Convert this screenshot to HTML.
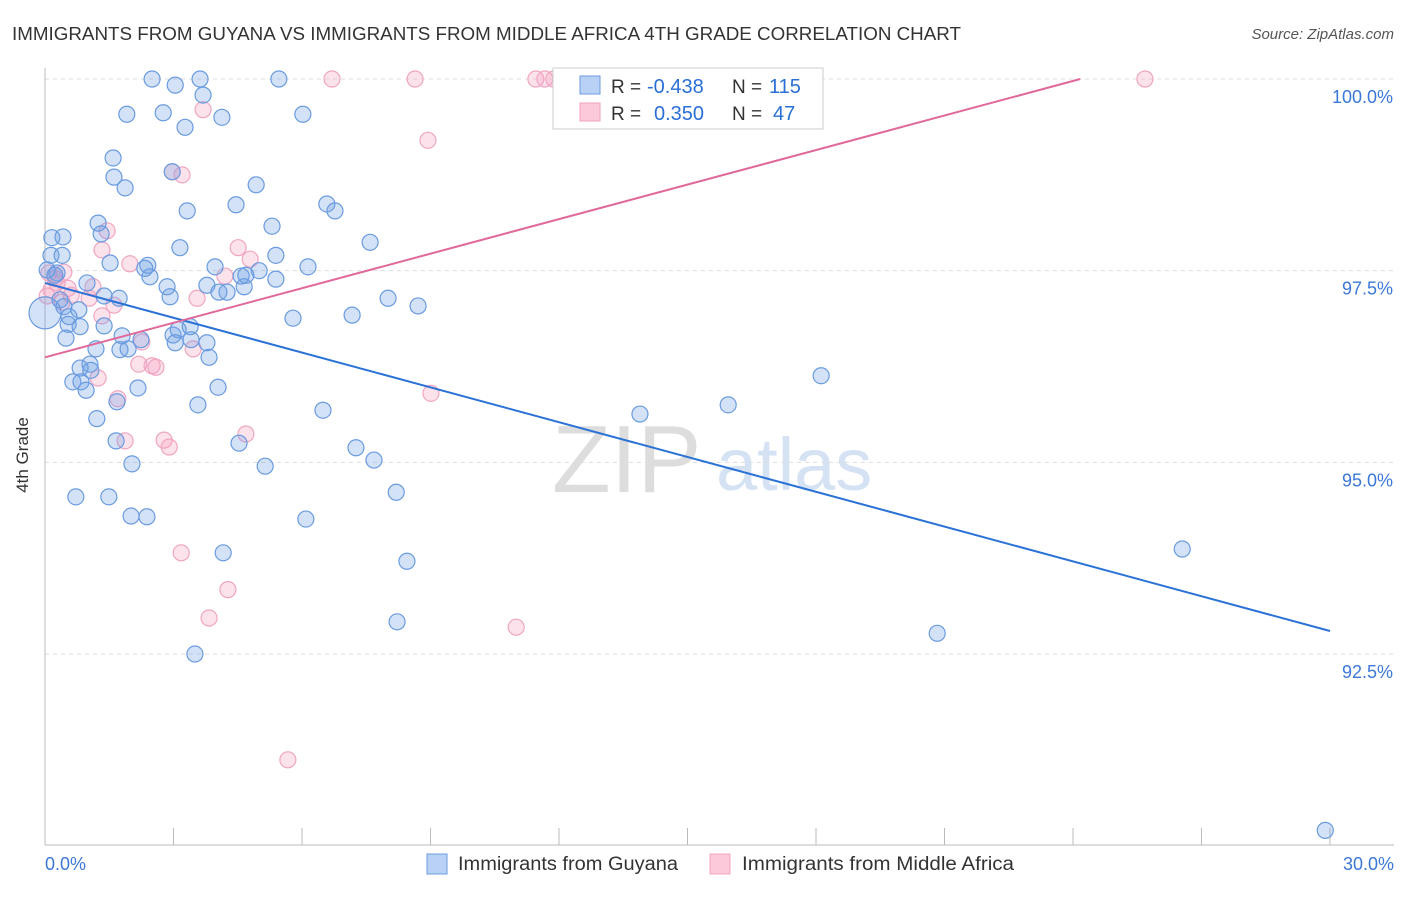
<!DOCTYPE html>
<html><head><meta charset="utf-8"><style>
body{margin:0;background:#fff;font-family:"Liberation Sans",sans-serif;}
svg text{font-family:"Liberation Sans",sans-serif;}
</style></head><body>
<svg id="chart" width="1406" height="892" xmlns="http://www.w3.org/2000/svg">
<text x="12" y="40" font-size="18" fill="#333" textLength="949" lengthAdjust="spacingAndGlyphs">IMMIGRANTS FROM GUYANA VS IMMIGRANTS FROM MIDDLE AFRICA 4TH GRADE CORRELATION CHART</text>
<text x="1394" y="39" font-size="15" fill="#555" font-style="italic" text-anchor="end">Source: ZipAtlas.com</text>
<text x="28" y="455" font-size="17" fill="#333" transform="rotate(-90 28 455)" text-anchor="middle">4th Grade</text>
<g><text x="552" y="492" font-size="96" fill="#ddd" font-family="Liberation Serif">ZIP</text><text x="716" y="490" font-size="74" fill="#d4e2f4">atlas</text></g>
<g id="grid"></g><g id="axes"></g><g id="pts"></g><g id="lines"></g>
<g>
<rect x="553" y="68" width="270" height="61" fill="#fff" stroke="#ccc"/>
<rect x="580" y="76" width="20" height="18" fill="#b9d1f5" stroke="#6a9be0"/>
<rect x="580" y="103" width="20" height="18" fill="#fbc9da" stroke="#f0a0c0"/>
<text x="611" y="93" font-size="19" fill="#333">R =</text>
<text x="647" y="93" font-size="20" fill="#2a6fd6">-0.438</text>
<text x="732" y="93" font-size="19" fill="#333">N =</text>
<text x="769" y="93" font-size="20" fill="#2a6fd6">115</text>
<text x="611" y="120" font-size="19" fill="#333">R =</text>
<text x="654" y="120" font-size="20" fill="#2a6fd6">0.350</text>
<text x="732" y="120" font-size="19" fill="#333">N =</text>
<text x="773" y="120" font-size="20" fill="#2a6fd6">47</text>
</g>
<g>
<rect x="427" y="854" width="20" height="20" fill="#b9d1f5" stroke="#6a9be0"/>
<text x="458" y="870" font-size="19" fill="#333" textLength="220" lengthAdjust="spacingAndGlyphs">Immigrants from Guyana</text>
<rect x="710" y="854" width="20" height="20" fill="#fbc9da" stroke="#f0a0c0"/>
<text x="742" y="870" font-size="19" fill="#333" textLength="272" lengthAdjust="spacingAndGlyphs">Immigrants from Middle Africa</text>
</g>
</svg>
<script>
const yTicks=[100,97.5,95,92.5];
const yTickLabels=["100.0%","97.5%","95.0%","92.5%"];
const xTicks=[0,3,6,9,12,15,18,21,24,27,30];
const xEndLabels=["0.0%","30.0%"];
const blueX=[2.50,3.04,3.62,5.46,3.69,1.91,2.76,3.27,4.13,6.02,1.59,1.61,1.87,2.97,4.93,3.32,4.46,6.58,6.77,1.24,1.31,5.30,0.16,0.42,3.15,7.59,0.14,0.40,1.52,2.40,2.45,3.97,5.39,6.14,0.05,0.23,0.28,0.98,2.33,2.85,3.78,4.58,4.69,5.00,5.39,4.65,4.06,4.25,2.92,1.73,1.38,0.35,8.01,8.71,0.44,0.56,0.79,5.79,7.17,0.54,1.38,0.82,0.49,1.80,2.24,2.99,3.11,3.39,3.04,3.41,3.78,1.75,1.94,1.19,3.83,1.05,0.82,1.07,0.65,0.84,0.96,2.17,4.04,18.12,1.68,3.57,6.49,15.95,13.89,1.21,1.66,4.53,7.26,7.68,2.03,5.14,8.20,0.72,1.49,2.01,2.38,6.09,4.16,8.45,26.55,8.22,20.83,3.50,29.89];
const blueY=[100,99.92,100,100,99.79,99.54,99.56,99.37,99.50,99.54,98.97,98.72,98.58,98.79,98.62,98.28,98.36,98.37,98.28,98.12,97.98,98.08,97.93,97.94,97.80,97.87,97.70,97.70,97.60,97.57,97.42,97.55,97.70,97.55,97.51,97.44,97.47,97.34,97.53,97.29,97.31,97.43,97.44,97.50,97.39,97.29,97.22,97.22,97.16,97.14,97.17,97.12,97.14,97.04,97.03,96.90,96.99,96.88,96.92,96.80,96.78,96.77,96.62,96.65,96.60,96.66,96.73,96.77,96.56,96.60,96.56,96.47,96.48,96.48,96.37,96.28,96.23,96.20,96.05,96.05,95.94,95.97,95.98,96.13,95.79,95.75,95.68,95.75,95.63,95.57,95.28,95.25,95.19,95.03,94.98,94.95,94.61,94.55,94.55,94.30,94.29,94.26,93.82,93.71,93.87,92.92,92.77,92.50,90.20];
const pinkX=[6.70,8.64,11.46,11.67,11.88,25.68,3.69,8.94,2.97,3.20,1.45,4.51,1.33,4.79,1.98,4.20,0.09,0.44,0.28,0.54,1.12,0.61,1.03,3.55,1.61,1.33,0.05,2.26,3.46,1.24,2.19,2.50,2.59,9.01,1.70,2.78,2.90,1.87,4.69,3.18,4.27,3.83,11.00,5.67,0.40,0.14,0.23];
const pinkY=[100,100,100,100,100,100,99.60,99.20,98.79,98.75,98.02,97.80,97.77,97.65,97.59,97.43,97.47,97.48,97.34,97.27,97.29,97.18,97.14,97.14,97.05,96.91,97.17,96.57,96.48,96.10,96.28,96.26,96.24,95.90,95.83,95.29,95.20,95.28,95.37,93.82,93.34,92.97,92.85,91.12,97.09,97.25,97.40];
const bigBlue=[0,96.95];
const blueTrend=[97.34,92.80];
const pinkTrend=[96.37,100.0,24.17];
const NS="http://www.w3.org/2000/svg";
const sx=v=>45+v*(1285/30);
const sy=v=>79+(100-v)*76.67;
function mk(tag,attrs,parent){const e=document.createElementNS(NS,tag);for(const k in attrs)e.setAttribute(k,attrs[k]);document.getElementById(parent).appendChild(e);return e;}
yTicks.forEach((t,i)=>{
 const l=mk('line',{x1:45,x2:1394,y1:sy(t),y2:sy(t),stroke:'#ddd','stroke-dasharray':'4,4'},'grid');
 
 
 const tx=mk('text',{x:1393,y:sy(t)+24,'font-size':18,fill:'#3b78d8','text-anchor':'end'},'grid');
 tx.textContent=yTickLabels[i];
 
 
});
const ax=mk('line',{x1:45,x2:45,y1:68,y2:845,stroke:'#bbb'},'axes');


const bx=mk('line',{x1:45,x2:1394,y1:845,y2:845,stroke:'#bbb'},'axes');


xTicks.forEach(t=>{
 const l=mk('line',{x1:sx(t),x2:sx(t),y1:828,y2:845,stroke:'#bbb'},'axes');
 
 
});
[[0,'start',45],[30,'end',1394]].forEach((a,i)=>{
 const tx=mk('text',{x:a[2],y:870,'font-size':18,fill:'#3b78d8','text-anchor':a[1]},'axes');
 tx.textContent=xEndLabels[i];
 
 
});
pinkX.forEach((x,i)=>{
 const c=mk('circle',{cx:sx(x),cy:sy(pinkY[i]),r:8,fill:'rgba(245,160,190,0.3)',stroke:'#f0a5c2','stroke-width':1.2},'pts');
 
 
});
blueX.forEach((x,i)=>{
 const c=mk('circle',{cx:sx(x),cy:sy(blueY[i]),r:8,fill:'rgba(110,160,230,0.3)',stroke:'#6a9be0','stroke-width':1.2},'pts');
 
 
});
const bb=mk('circle',{cx:sx(bigBlue[0]),cy:sy(bigBlue[1]),r:16,fill:'rgba(110,160,230,0.3)',stroke:'#6a9be0','stroke-width':1.2},'pts');


const bl=mk('line',{x1:sx(0),y1:sy(blueTrend[0]),x2:sx(30),y2:sy(blueTrend[1]),stroke:'#2a72d6','stroke-width':2},'lines');


const pl=mk('line',{x1:sx(0),y1:sy(pinkTrend[0]),x2:sx(pinkTrend[2]),y2:sy(pinkTrend[1]),stroke:'#e0689a','stroke-width':2},'lines');


</script>
</body></html>
